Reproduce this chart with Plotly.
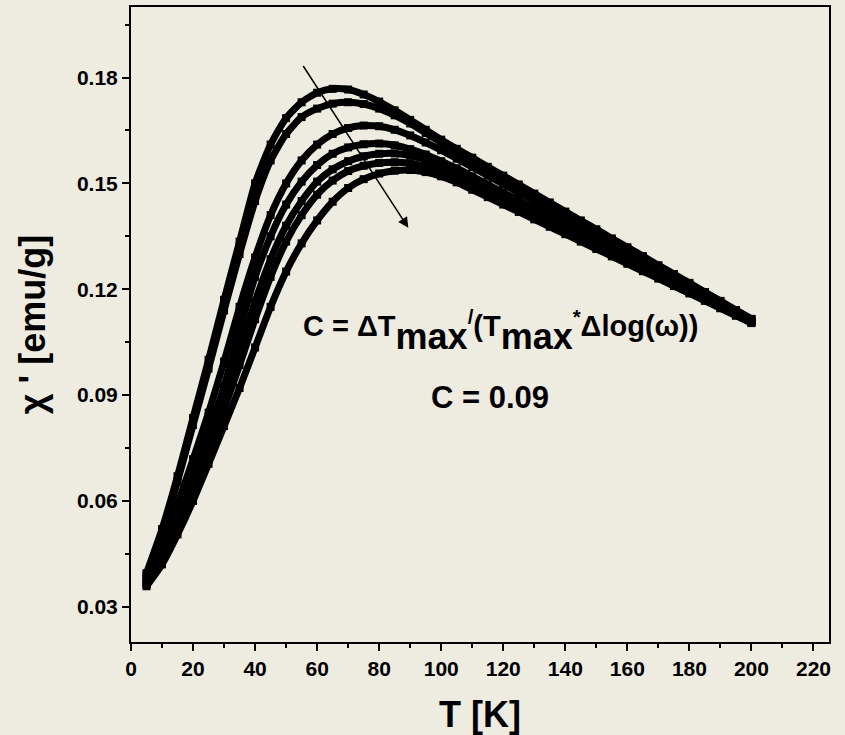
import plotly.graph_objects as go

# Temperature grid (K)
T_K = [5, 10, 15, 20, 25, 30, 35, 40, 45, 50, 55, 60, 65, 70, 75, 80, 85, 90, 95, 100,
       105, 110, 115, 120, 125, 130, 135, 140, 145, 150, 155, 160, 165, 170, 175, 180,
       185, 190, 195, 200]

# chi' (emu/g) for each measuring frequency (lowest -> highest)
chi_f1 = [0.0395, 0.0520, 0.0670, 0.0835, 0.1000, 0.1170, 0.1335, 0.1500, 0.1610, 0.1685,
          0.1730, 0.1757, 0.1768, 0.1766, 0.1752, 0.1732, 0.1707, 0.1680, 0.1652, 0.1624,
          0.1598, 0.1573, 0.1547, 0.1522, 0.1497, 0.1471, 0.1446, 0.1420, 0.1395, 0.1370,
          0.1344, 0.1319, 0.1294, 0.1268, 0.1243, 0.1218, 0.1192, 0.1167, 0.1141, 0.1116]
chi_f2 = [0.0390, 0.0510, 0.0655, 0.0815, 0.0975, 0.1140, 0.1300, 0.1450, 0.1565, 0.1640,
          0.1688, 0.1712, 0.1726, 0.1730, 0.1725, 0.1712, 0.1693, 0.1670, 0.1643, 0.1616,
          0.1590, 0.1565, 0.1540, 0.1515, 0.1490, 0.1465, 0.1440, 0.1415, 0.1390, 0.1365,
          0.1340, 0.1315, 0.1290, 0.1265, 0.1240, 0.1215, 0.1190, 0.1165, 0.1140, 0.1115]
chi_f3 = [0.0380, 0.0478, 0.0592, 0.0718, 0.0850, 0.0995, 0.1150, 0.1290, 0.1410, 0.1500,
          0.1565, 0.1610, 0.1640, 0.1657, 0.1664, 0.1662, 0.1652, 0.1636, 0.1616, 0.1594,
          0.1570, 0.1546, 0.1522, 0.1498, 0.1474, 0.1450, 0.1426, 0.1402, 0.1378, 0.1354,
          0.1330, 0.1306, 0.1282, 0.1258, 0.1234, 0.1210, 0.1186, 0.1162, 0.1138, 0.1113]
chi_f4 = [0.0372, 0.0458, 0.0560, 0.0675, 0.0795, 0.0925, 0.1085, 0.1235, 0.1350, 0.1440,
          0.1505, 0.1552, 0.1584, 0.1602, 0.1611, 0.1613, 0.1608, 0.1597, 0.1582, 0.1563,
          0.1543, 0.1520, 0.1497, 0.1474, 0.1452, 0.1429, 0.1406, 0.1383, 0.1361, 0.1338,
          0.1315, 0.1292, 0.1270, 0.1247, 0.1224, 0.1201, 0.1178, 0.1156, 0.1133, 0.1110]
chi_f5 = [0.0366, 0.0445, 0.0540, 0.0650, 0.0770, 0.0893, 0.1025, 0.1165, 0.1285, 0.1380,
          0.1450, 0.1505, 0.1540, 0.1563, 0.1577, 0.1584, 0.1585, 0.1579, 0.1567, 0.1551,
          0.1533, 0.1511, 0.1488, 0.1466, 0.1444, 0.1421, 0.1399, 0.1376, 0.1354, 0.1332,
          0.1309, 0.1287, 0.1264, 0.1242, 0.1220, 0.1197, 0.1175, 0.1152, 0.1130, 0.1107]
chi_f6 = [0.0362, 0.0432, 0.0520, 0.0625, 0.0740, 0.0860, 0.0985, 0.1115, 0.1235, 0.1335,
          0.1410, 0.1468, 0.1508, 0.1535, 0.1550, 0.1558, 0.1560, 0.1557, 0.1548, 0.1535,
          0.1519, 0.1497, 0.1476, 0.1454, 0.1432, 0.1410, 0.1388, 0.1366, 0.1345, 0.1323,
          0.1301, 0.1279, 0.1257, 0.1235, 0.1214, 0.1192, 0.1170, 0.1148, 0.1126, 0.1105]
chi_f7 = [0.0358, 0.0420, 0.0505, 0.0600, 0.0705, 0.0812, 0.0920, 0.1035, 0.1150, 0.1250,
          0.1330, 0.1395, 0.1448, 0.1487, 0.1512, 0.1528, 0.1536, 0.1538, 0.1532, 0.1520,
          0.1503, 0.1482, 0.1461, 0.1440, 0.1419, 0.1398, 0.1377, 0.1356, 0.1335, 0.1314,
          0.1293, 0.1272, 0.1251, 0.1230, 0.1209, 0.1188, 0.1167, 0.1146, 0.1125, 0.1104]

series = [chi_f1, chi_f2, chi_f3, chi_f4, chi_f5, chi_f6, chi_f7]
names = ["f1", "f2", "f3", "f4", "f5", "f6", "f7"]

# arrow showing the frequency trend (tail -> head), data coordinates
arrow_tail = (55.2, 0.1837)
arrow_head = (89.4, 0.1374)

BG = "#EEEBE1"
FONT = "Liberation Sans, Arial, sans-serif"

fig = go.Figure()
for nm, ys in zip(names, series):
    fig.add_trace(go.Scatter(
        x=T_K, y=ys, name=nm, mode="lines+markers",
        line=dict(color="black", width=7, shape="spline", smoothing=0.6),
        marker=dict(symbol="square", size=8, color="black"),
        showlegend=False,
    ))

axis_common = dict(
    showgrid=False, zeroline=False, showline=True, linecolor="black", linewidth=2,
    mirror=True, ticks="outside", ticklen=7, tickwidth=2, tickcolor="black",
    automargin=False,
    tickfont=dict(family=FONT, size=21, color="black", weight="bold"),
)

sub_style = "font-size:36px;baseline-shift:-13px"

fig.update_layout(
    width=845, height=735,
    paper_bgcolor=BG, plot_bgcolor=BG,
    margin=dict(l=131, r=16, t=7, b=93),
    font=dict(family=FONT, color="black"),
    xaxis=dict(
        range=[0, 225], tickmode="linear", tick0=0, dtick=20,
        minor=dict(ticks="outside", ticklen=4, tickwidth=2, tickcolor="black", dtick=10, tick0=0),
        title=dict(text="T [K]", font=dict(family=FONT, size=36, weight="bold"), standoff=24),
        **axis_common,
    ),
    yaxis=dict(
        range=[0.02, 0.20], tickmode="linear", tick0=0.03, dtick=0.03, tickformat=".2f",
        minor=dict(ticks="outside", ticklen=4, tickwidth=2, tickcolor="black", dtick=0.015, tick0=0.015),
        title=dict(text="χ ' [emu/g]", font=dict(family=FONT, size=36, weight="bold"), standoff=20),
        **axis_common,
    ),
    annotations=[
        dict(x=arrow_head[0], y=arrow_head[1], ax=arrow_tail[0], ay=arrow_tail[1],
             xref="x", yref="y", axref="x", ayref="y", text="", showarrow=True,
             arrowhead=2, arrowsize=1.4, arrowwidth=1.5, arrowcolor="black"),
        dict(x=119, y=0.1080, xref="x", yref="y", showarrow=False,
             text=("C = ΔT<span style='" + sub_style + "'>max</span><sup>/</sup>(T"
                   "<span style='" + sub_style + "'>max</span><sup>*</sup>Δlog(ω))"),
             font=dict(family=FONT, size=29, color="black", weight="bold")),
        dict(x=115.7, y=0.0892, xref="x", yref="y", showarrow=False,
             text="C = 0.09",
             font=dict(family=FONT, size=31, color="black", weight="bold")),
    ],
)

fig.write_html("out.html", config={"displayModeBar": False},
               post_script="document.body.style.margin='0';")
